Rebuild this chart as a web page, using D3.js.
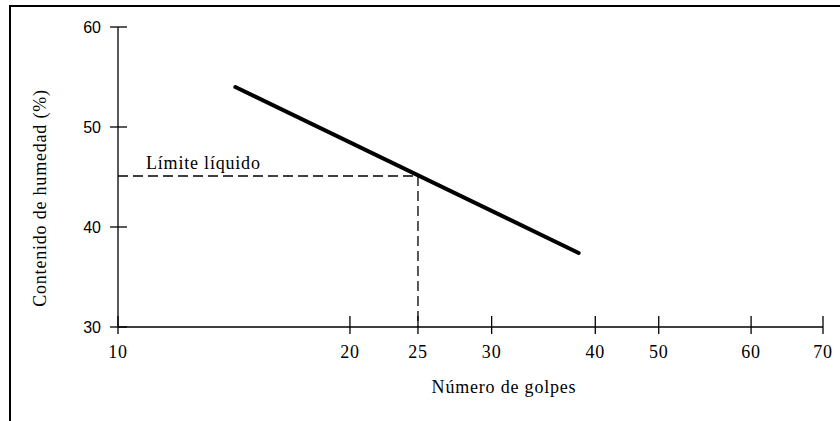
<!DOCTYPE html>
<html>
<head>
<meta charset="utf-8">
<script src="https://cdn.jsdelivr.net/npm/d3@7"></script>
<style>
body { margin: 0; background: #fff; }
.serif { font-family: "Liberation Serif", "DejaVu Serif", serif; letter-spacing: 0.8px; }
.sans { font-family: "Liberation Sans", "DejaVu Sans", sans-serif; }
</style>
</head>
<body>
<script>
// data
var xTicks = [10, 20, 25, 30, 40, 50, 60, 70];
var yTicks = [30, 40, 50, 60];
var flowX = [14.2, 38.2];      // número de golpes
var flowY = [54, 37.4];        // contenido de humedad (%)
var liquidLimit = { golpes: 25, humedad: 45.1 };

var width = 840, height = 421;
var x0 = 118, x1 = 823, y0 = 327, y1 = 27;

var svg = d3.select("body").append("svg")
  .attr("width", width).attr("height", height);

// frame
svg.append("rect").attr("x", 10).attr("y", 6)
  .attr("width", 840).attr("height", 430)
  .attr("fill", "none").attr("stroke", "#000").attr("stroke-width", 2);

// the drawing's axis is not a clean log scale: tick spacing on log values
var tickFrac = [0, 0.329, 0.4255, 0.530, 0.677, 0.767, 0.898, 1];
var xLin = d3.scaleLinear()
  .domain(xTicks.map(Math.log10))
  .range(tickFrac.map(function(f) { return x0 + f * (x1 - x0); }));
var x = function(v) { return xLin(Math.log10(v)); };
var y = d3.scaleLinear().domain([30, 60]).range([y0, y1]);

// axes
var g = svg.append("g").attr("stroke", "#000").attr("stroke-width", 1.3);
g.append("line").attr("x1", x0).attr("x2", x1).attr("y1", y0).attr("y2", y0);
g.append("line").attr("x1", x0).attr("x2", x0).attr("y1", y0).attr("y2", y1);
g.selectAll(".xt").data(xTicks).enter().append("line")
  .attr("x1", function(d) { return x(d); }).attr("x2", function(d) { return x(d); })
  .attr("y1", y0 - 11).attr("y2", y0 + 7);
g.selectAll(".yt").data(yTicks).enter().append("line")
  .attr("x1", x0 - 8).attr("x2", x0 + 9)
  .attr("y1", function(d) { return y(d); }).attr("y2", function(d) { return y(d); });

svg.selectAll(".xl").data(xTicks).enter().append("text")
  .attr("class", "serif").attr("font-size", 18)
  .attr("x", function(d) { return x(d); }).attr("y", y0 + 31)
  .attr("text-anchor", "middle").text(function(d) { return d; });
svg.selectAll(".yl").data(yTicks).enter().append("text")
  .attr("class", "sans").attr("font-size", 16)
  .attr("x", x0 - 17).attr("y", function(d) { return y(d) + 6; })
  .attr("text-anchor", "end").text(function(d) { return d; });

// dashed guides to the liquid limit
var dash = svg.append("g").attr("stroke", "#000").attr("stroke-width", 1.3)
  .attr("stroke-dasharray", "10,5");
dash.append("line").attr("x1", x0).attr("x2", x(liquidLimit.golpes))
  .attr("y1", y(liquidLimit.humedad)).attr("y2", y(liquidLimit.humedad));
dash.append("line").attr("x1", x(liquidLimit.golpes)).attr("x2", x(liquidLimit.golpes))
  .attr("y1", y(liquidLimit.humedad)).attr("y2", y0);

// flow line
var line = d3.line().x(function(d) { return x(d[0]); }).y(function(d) { return y(d[1]); });
svg.append("path").datum(d3.zip(flowX, flowY))
  .attr("d", line).attr("fill", "none").attr("stroke", "#000")
  .attr("stroke-width", 4).attr("stroke-linecap", "round");

svg.append("text").attr("class", "serif").attr("font-size", 18)
  .attr("x", 146).attr("y", 169).text("Límite líquido");
svg.append("text").attr("class", "serif").attr("font-size", 18)
  .attr("x", 504).attr("y", 393).attr("text-anchor", "middle").text("Número de golpes");
svg.append("text").attr("class", "serif").attr("font-size", 18)
  .attr("transform", "translate(46,198) rotate(-90)")
  .attr("text-anchor", "middle").text("Contenido de humedad (%)");
</script>
</body>
</html>
